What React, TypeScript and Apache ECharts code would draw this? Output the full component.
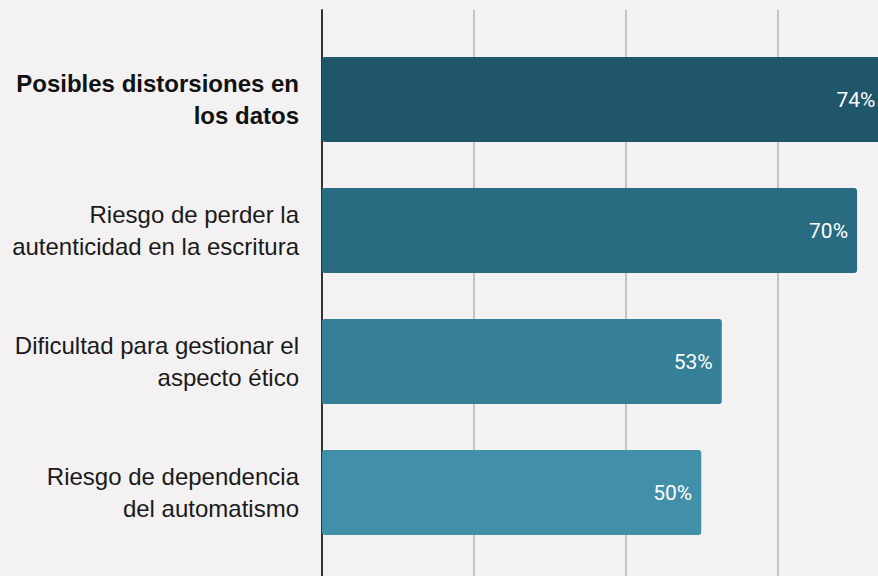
import React, { useEffect, useRef } from "react";
import * as echarts from "echarts";

const categories = [
  "Posibles distorsiones en\nlos datos",
  "Riesgo de perder la\nautenticidad en la escritura",
  "Dificultad para gestionar el\naspecto ético",
  "Riesgo de dependencia\ndel automatismo",
];
// bar lengths; labels show the rounded percentage
const values = [74, 70.4, 52.6, 49.9];
const barColors = ["#1f5669", "#296b81", "#357f97", "#428fa9"];
const highlighted = [true, false, false, false];

export default function App() {
  const ref = useRef<HTMLDivElement>(null);
  useEffect(() => {
    if (!ref.current) return;
    const chart = echarts.init(ref.current, null, { renderer: "svg" });
    const labelMap: Record<string, boolean> = {};
    categories.forEach((c, i) => (labelMap[c] = highlighted[i]));
    const font = "'Liberation Sans', Arial, sans-serif";
    chart.setOption({
      animation: false,
      backgroundColor: "#f3f1f2",
      grid: [
        { left: 322, top: 10, width: 608, height: 620, outerBoundsMode: "none", containLabel: false },
        { left: 322, top: 34, width: 608, height: 524, outerBoundsMode: "none", containLabel: false },
      ],
      xAxis: [
        {
          gridIndex: 0,
          type: "value",
          min: 0,
          max: 80,
          interval: 20,
          axisLabel: { show: false },
          axisLine: { show: false },
          axisTick: { show: false },
          splitLine: { show: true, lineStyle: { color: "#c4c4c4", width: 2 } },
        },
        {
          gridIndex: 1,
          type: "value",
          min: 0,
          max: 80,
          interval: 20,
          show: false,
          splitLine: { show: false },
        },
      ],
      yAxis: [
        {
          gridIndex: 0,
          type: "value",
          axisLabel: { show: false },
          axisTick: { show: false },
          splitLine: { show: false },
          axisLine: { show: true, lineStyle: { color: "#333333", width: 2 } },
        },
        {
          gridIndex: 1,
          type: "category",
          inverse: true,
          data: categories,
          axisLine: { show: false },
          axisTick: { show: false },
          splitLine: { show: false },
          axisLabel: {
            margin: 23,
            fontSize: 24,
            lineHeight: 32,
            color: "#1a1a1a",
            fontFamily: font,
            formatter: (v: string) => {
              const lines = v.split("\n");
              const key = labelMap[v] ? "b" : "n";
              return lines.map((l) => `{${key}|${l}}`).join("\n");
            },
            rich: {
              b: { fontSize: 24, lineHeight: 32, fontWeight: "bold", color: "#111111", fontFamily: font },
              n: { fontSize: 24, lineHeight: 32, fontWeight: "normal", color: "#1a1a1a", fontFamily: font },
            },
          },
        },
      ],
      series: [
        {
          type: "bar",
          xAxisIndex: 1,
          yAxisIndex: 1,
          barWidth: 85,
          data: values.map((v, i) => ({
            value: v,
            itemStyle: { color: barColors[i], borderRadius: 3 },
          })),
          label: {
            show: true,
            position: "insideRight",
            distance: 9,
            color: "#ffffff",
            fontSize: 21,
            fontWeight: "normal",
            fontFamily: "Roboto, sans-serif",
            formatter: (p: any) => `${Math.round(p.value)}%`,
          },
        },
      ],
    });
    return () => chart.dispose();
  }, []);
  return (
    <div
      ref={ref}
      style={{ position: "fixed", left: 0, top: 0, width: 878, height: 576 }}
    />
  );
}
